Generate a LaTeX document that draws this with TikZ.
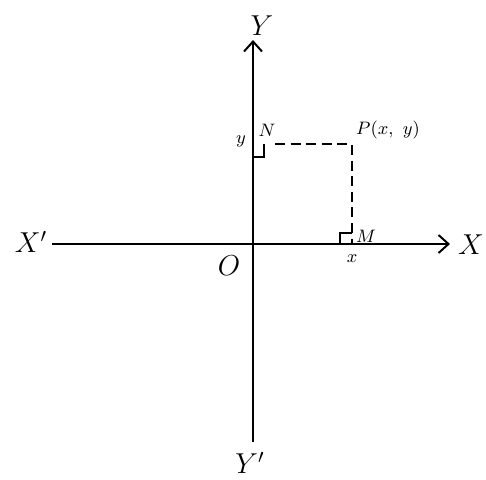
\documentclass[tikz,border=0pt]{standalone}
\usetikzlibrary{arrows.meta}
\begin{document}
\begin{tikzpicture}[x=0.5pt,y=-0.5pt,
  axis/.style={line width=1pt,-{Straight Barb[length=5pt,width=9pt,line width=1pt]}},
  dashline/.style={line width=1pt,dash pattern=on 5pt off 2.8pt},
  rt/.style={line width=0.9pt},
  biglbl/.style={font=\fontsize{14}{16}\selectfont,inner sep=0pt},
  smalllbl/.style={font=\fontsize{9.5}{11}\selectfont,inner sep=0pt}]
\useasboundingbox (0,0) rectangle (486,479);
\coordinate (Xl) at (52,244);
\coordinate (Xr) at (450,244);
\coordinate (Yb) at (253,442);
\coordinate (Yt) at (253,40);
\coordinate (O) at (253,244);
\coordinate (N) at (253,144);
\coordinate (M) at (352,244);
\coordinate (P) at (352,144);
\draw[axis] (Xl) -- (Xr);
\draw[axis] (Yb) -- (Yt);
\draw[dashline] (N) ++(22,0) -- (P) -- (M);
\draw[rt] (253,157) -- (264,157) -- (264,144);
\draw[rt] (340,244) -- (340,233) -- (352,233);
\node[biglbl] (lX) at (471,245) {$X$};
\node[biglbl] (lXp) at (31,242) {$X'$};
\node[biglbl] (lY) at (262,26) {$Y$};
\node[biglbl] (lYp) at (250,463) {$Y'$};
\node[biglbl] (lO) at (229,266) {$O$};
\node[smalllbl] (lP) at (388,130) {$P(x,\ y)$};
\node[smalllbl] (lN) at (267,130) {$N$};
\node[smalllbl] (ly) at (241,141) {$y$};
\node[smalllbl] (lM) at (366,236) {$M$};
\node[smalllbl] (lx) at (352,259) {$x$};
\end{tikzpicture}
\end{document}
